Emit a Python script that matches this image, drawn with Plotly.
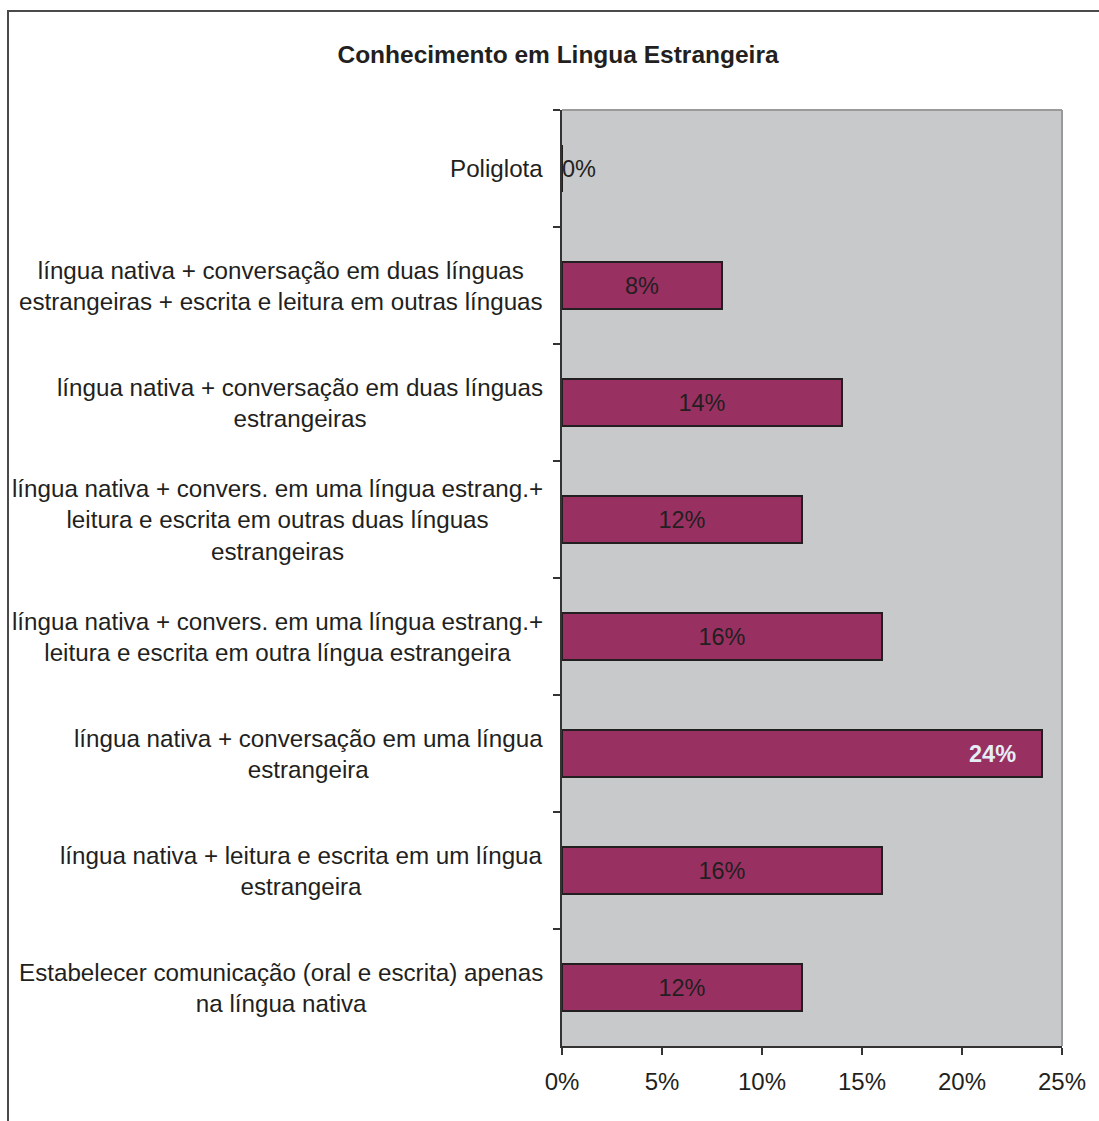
import plotly.graph_objects as go

# Survey categories, top to bottom, with their printed line breaks
categories = [
    "Poliglota",
    "língua nativa + conversação em duas línguas<br>estrangeiras + escrita e leitura em outras línguas",
    "língua nativa + conversação em duas línguas<br>estrangeiras",
    "língua nativa + convers. em uma língua estrang.+<br>leitura e escrita em outras duas línguas<br>estrangeiras",
    "língua nativa + convers. em uma língua estrang.+<br>leitura e escrita em outra língua estrangeira",
    "língua nativa + conversação em uma língua<br>estrangeira",
    "língua nativa + leitura e escrita em um língua<br>estrangeira",
    "Estabelecer comunicação (oral e escrita) apenas<br>na língua nativa",
]
values = [0, 8, 14, 12, 16, 24, 16, 12]
x_ticks = [0, 5, 10, 15, 20, 25]
x_tick_labels = ["0%", "5%", "10%", "15%", "20%", "25%"]

keys = [f"c{i}" for i in range(len(categories))]

W, H = 1099, 1121
L, R, T, B = 562, 37, 110, 75
pw, ph = W - L - R, H - T - B

FONT = "Liberation Sans, Arial, Helvetica, sans-serif"
TXT = "#231F20"
BAR = "#993062"

# labels shown inside the bar centre (0 and the longest bar get their own)
inner_text = [f"{v}%" if 0 < v < max(values) else "" for v in values]

fig = go.Figure(
    go.Bar(
        y=keys,
        x=values,
        orientation="h",
        width=0.4,
        marker=dict(color=BAR, line=dict(color=TXT, width=2)),
        text=inner_text,
        textposition="inside",
        insidetextanchor="middle",
        textfont=dict(family=FONT, size=23.5, color=TXT),
        hoverinfo="skip",
    )
)

annotations = []
# category labels to the left of the axis
for k, c in zip(keys, categories):
    annotations.append(dict(
        x=0, y=k, xref="paper", yref="y", text=c, showarrow=False,
        xanchor="right", yanchor="middle", align="center", xshift=-17,
        font=dict(family=FONT, size=24.2, color=TXT),
    ))
# value labels handled separately
for k, v in zip(keys, values):
    if v == 0:
        annotations.append(dict(
            x=v, y=k, xref="x", yref="y", text=f"{v}%", showarrow=False,
            xanchor="left", yanchor="middle", xshift=-2,
            font=dict(family=FONT, size=23.5, color=TXT),
        ))
    elif v == max(values):
        annotations.append(dict(
            x=v, y=k, xref="x", yref="y", text=f"<b>{v}%</b>", showarrow=False,
            xanchor="right", yanchor="middle", xshift=-24,
            font=dict(family=FONT, size=23.5, color="#E4EEF4"),
        ))

def px_x(p):
    return (p - L) / pw

def px_y(p):
    return 1 - (p - T) / ph

shapes = [
    # outer frame (left and top edges)
    dict(type="line", xref="paper", yref="paper", x0=px_x(8), x1=px_x(8),
         y0=px_y(10), y1=px_y(H + 5), line=dict(color="#4a4a4a", width=2)),
    dict(type="line", xref="paper", yref="paper", x0=px_x(7), x1=px_x(W + 5),
         y0=px_y(11), y1=px_y(11), line=dict(color="#4a4a4a", width=2)),
    # light plot-area border on top and right
    dict(type="line", xref="paper", yref="paper", x0=0, x1=1, y0=1, y1=1,
         line=dict(color="#9a9a9a", width=2)),
    dict(type="line", xref="paper", yref="paper", x0=1, x1=1, y0=0, y1=1,
         line=dict(color="#9a9a9a", width=2)),
]

fig.update_layout(
    width=W, height=H,
    margin=dict(l=L, r=R, t=T, b=B),
    paper_bgcolor="white",
    plot_bgcolor="#C8C9CB",
    showlegend=False,
    title=dict(
        text="<b>Conhecimento em Lingua Estrangeira</b>",
        xref="container", yref="container",
        x=558 / W, xanchor="center", y=1 - 54 / H, yanchor="middle",
        font=dict(family=FONT, size=24.5, color=TXT),
    ),
    xaxis=dict(
        range=[0, 25], tickvals=x_ticks, ticktext=x_tick_labels,
        showgrid=False, zeroline=False,
        showline=True, linecolor="#333333", linewidth=1.5,
        ticks="outside", ticklen=7, tickcolor="#333333", tickwidth=1.5,
        ticklabelstandoff=6,
        tickfont=dict(family=FONT, size=24, color=TXT),
        fixedrange=True,
    ),
    yaxis=dict(
        type="category", categoryorder="array", categoryarray=keys,
        autorange="reversed",
        showticklabels=False, showgrid=False, zeroline=False,
        showline=True, linecolor="#333333", linewidth=1.5,
        ticks="outside", tickson="boundaries", ticklen=7,
        tickcolor="#333333", tickwidth=1.5,
        fixedrange=True,
    ),
    annotations=annotations,
    shapes=shapes,
)

fig.write_html("out.html")
